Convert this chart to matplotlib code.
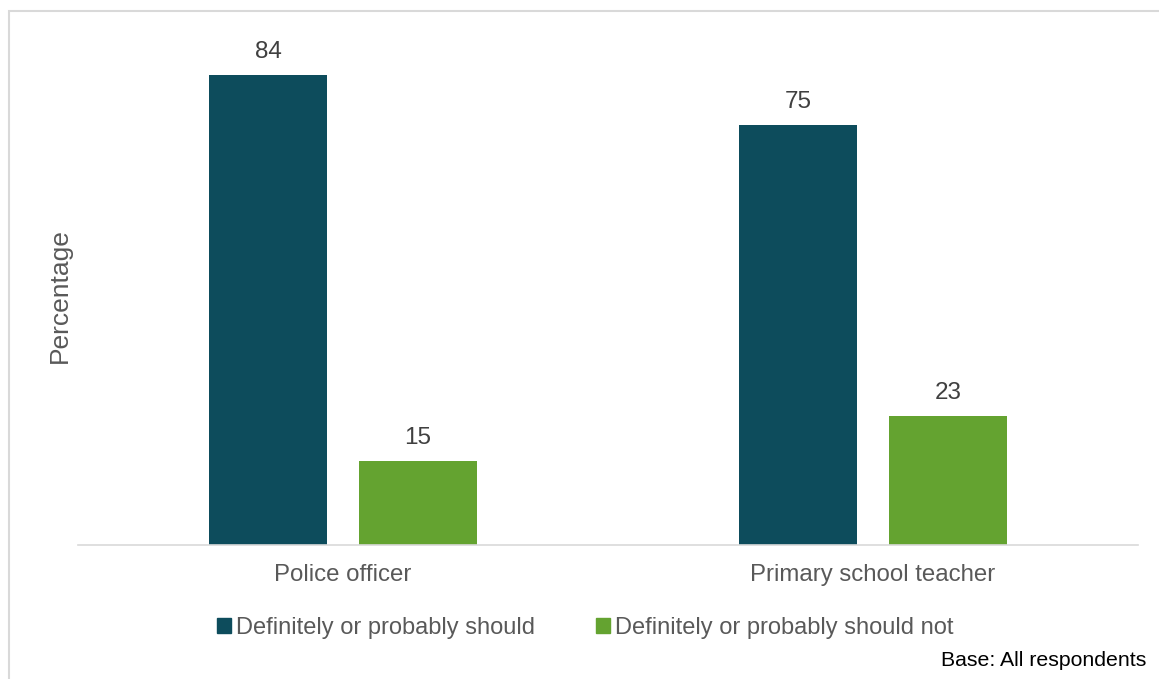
import numpy as np
import matplotlib.pyplot as plt
from matplotlib.patches import Rectangle, Patch

plt.rcParams['font.family'] = ['Liberation Sans', 'DejaVu Sans']

categories = ['Police officer', 'Primary school teacher']
series = ['Definitely or probably should', 'Definitely or probably should not']
should = [84, 75]
should_not = [15, 23]
colors = ['#0d4c5c', '#64a330']
grey = '#595959'

W, H = 1159, 679
fig = plt.figure(figsize=(W / 100, H / 100), dpi=100)
ax = fig.add_axes([78 / W, 1 - 545 / H, 1060 / W, (545 - 41) / H])

x = np.arange(len(categories))
bw = 118 / 530
off = 75 / 530
b1 = ax.bar(x - off, should, bw, color=colors[0])
b2 = ax.bar(x + off, should_not, bw, color=colors[1])
for bars, vals in ((b1, should), (b2, should_not)):
    for b, v in zip(bars, vals):
        ax.text(b.get_x() + b.get_width() / 2, v + 3.0, str(v), ha='center',
                va='baseline', fontsize=17.5, color='#404040')

ax.set_xlim(-0.5, 1.5)
ax.set_ylim(0, 90)
ax.set_xticks(x)
ax.set_xticklabels(categories, fontsize=17.3, color=grey)
ax.tick_params(axis='x', length=0, pad=14)
ax.set_yticks([])
for s in ['top', 'right', 'left']:
    ax.spines[s].set_visible(False)
ax.spines['bottom'].set_color('#d9d9d9')
ax.spines['bottom'].set_linewidth(1.2)

fig.text(60 / W, 1 - 296 / H, 'Percentage', rotation=90, ha='center',
         va='center', fontsize=19, color=grey)

handles = [Patch(color=c) for c in colors]
fig.legend(handles, series, loc='center', bbox_to_anchor=(585 / W, 1 - 628 / H),
           ncol=2, frameon=False, fontsize=17, labelcolor=grey,
           handlelength=0.6, handleheight=0.6, handletextpad=0.2,
           columnspacing=2.6)

fig.text(1146 / W, 1 - 660 / H, 'Base: All respondents', ha='right',
         va='center', fontsize=15.3, color='black')

fig.patches.append(Rectangle((9 / W, -0.01), 1.0, 1 - 11 / H + 0.01,
                             transform=fig.transFigure, fill=False,
                             edgecolor='#d9d9d9', linewidth=1.5))

fig.savefig('out.png', dpi=100)
